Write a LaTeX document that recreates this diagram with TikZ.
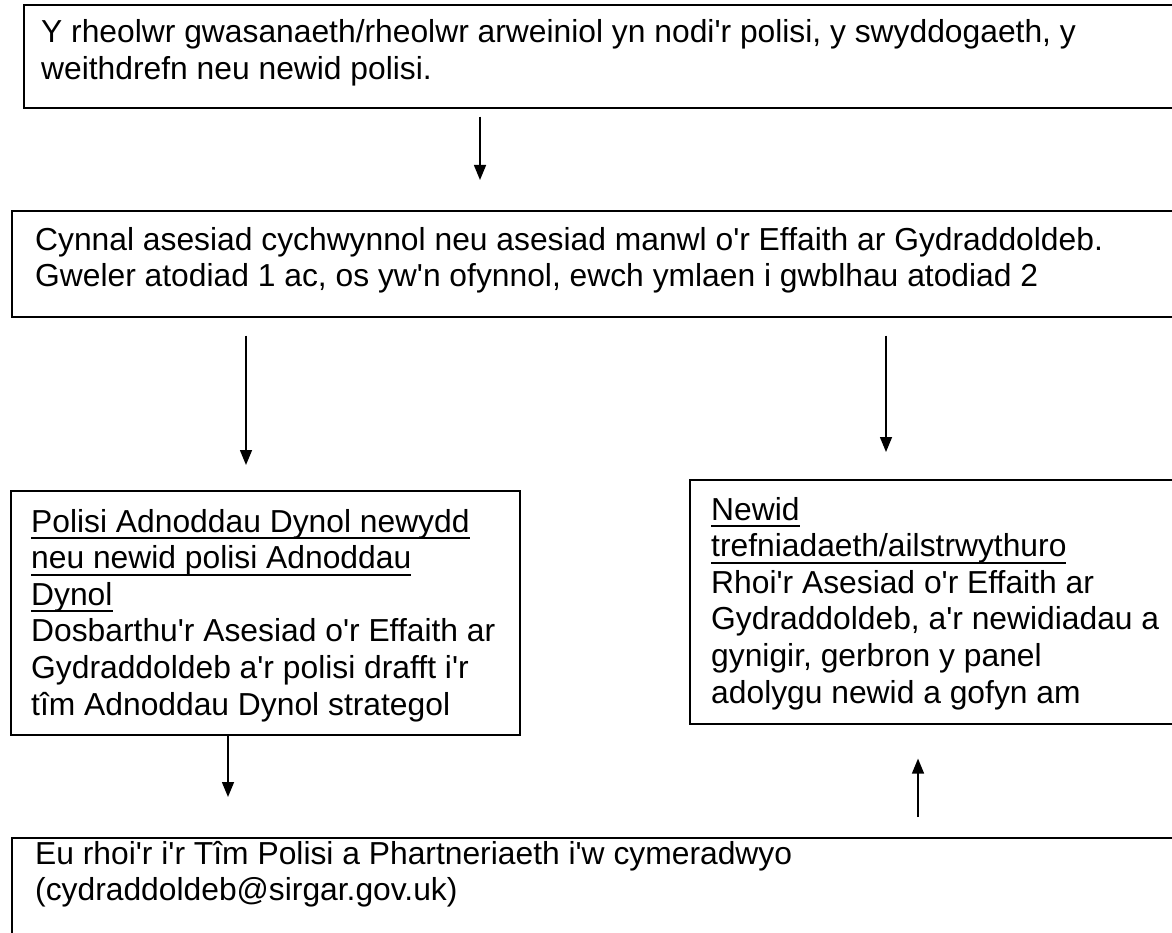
\documentclass[tikz,border=0pt]{standalone}
\usepackage{fontspec}
\setmainfont{Liberation Sans}[Ligatures=TeXOff]
\usetikzlibrary{arrows.meta}
\newlength\myulw
\newcommand\myul[1]{\settowidth\myulw{#1}\rlap{\rule[-7pt]{\myulw}{2pt}}#1}
\begin{document}
\begin{tikzpicture}[x=1pt,y=-1pt,
  box/.style={draw,line width=1.6pt,rectangle,inner sep=0pt,anchor=north west},
  txt/.style={anchor=base west,align=left,inner sep=0pt,font=\fontsize{31.8pt}{36.6pt}\selectfont},
  arr/.style={-{Triangle[width=12pt,length=15pt]},line width=1.5pt}]
\useasboundingbox (0,0) rectangle (1172,933);
\clip (0,0) rectangle (1172,933);
% boxes
\node[box,minimum width=1200pt,minimum height=103pt] (top) at (23,4) {};
\node[box,minimum width=1200pt,minimum height=106pt] (mid) at (11,210) {};
\node[box,minimum width=509pt,minimum height=244pt] (left) at (10,490) {};
\node[box,minimum width=520pt,minimum height=244pt] (right) at (689,479) {};
\node[box,minimum width=1200pt,minimum height=150pt] (bot) at (11,837) {};
% texts (base anchor = baseline of last line)
\node[txt] (toptext) at (41,79.6) {Y rheolwr gwasanaeth/rheolwr arweiniol yn nodi'r polisi, y swyddogaeth, y\\weithdrefn neu newid polisi.};
\node[txt] (midtext) at (35,286.6) {Cynnal asesiad cychwynnol neu asesiad manwl o'r Effaith ar Gydraddoldeb.\\Gweler atodiad 1 ac, os yw'n ofynnol, ewch ymlaen i gwblhau atodiad 2};
\node[txt] (lefttext) at (31,715) {\myul{Polisi Adnoddau Dynol newydd}\\\myul{neu newid polisi Adnoddau}\\\myul{Dynol}\\Dosbarthu'r Asesiad o'r Effaith ar\\Gydraddoldeb a'r polisi drafft i'r\\tîm Adnoddau Dynol strategol};
\node[txt] (righttext) at (711,703) {\myul{Newid}\\\myul{trefniadaeth/ailstrwythuro}\\Rhoi'r Asesiad o'r Effaith ar\\Gydraddoldeb, a'r newidiadau a\\gynigir, gerbron y panel\\adolygu newid a gofyn am};
\node[txt] (bottext) at (35,900.6) {Eu rhoi'r i'r Tîm Polisi a Phartneriaeth i'w cymeradwyo\\(cydraddoldeb@sirgar.gov.uk)};
% arrow columns
\coordinate (x1) at (480,0);
\coordinate (x2) at (246,0);
\coordinate (x3) at (886,0);
\coordinate (x4) at (228,0);
\coordinate (x5) at (918,0);
\draw[arr,shorten <=8pt,shorten >=30pt] (top.south -| x1) -- (mid.north -| x1);
\draw[arr,shorten <=18pt,shorten >=25pt] (mid.south -| x2) -- (left.north -| x2);
\draw[arr,shorten <=18pt,shorten >=27pt] (mid.south -| x3) -- (right.north -| x3);
\draw[arr,shorten >=40pt] (left.south -| x4) -- (bot.north -| x4);
\draw[arr,shorten <=20pt,shorten >=34pt] (bot.north -| x5) -- (right.south -| x5);
\end{tikzpicture}
\end{document}
